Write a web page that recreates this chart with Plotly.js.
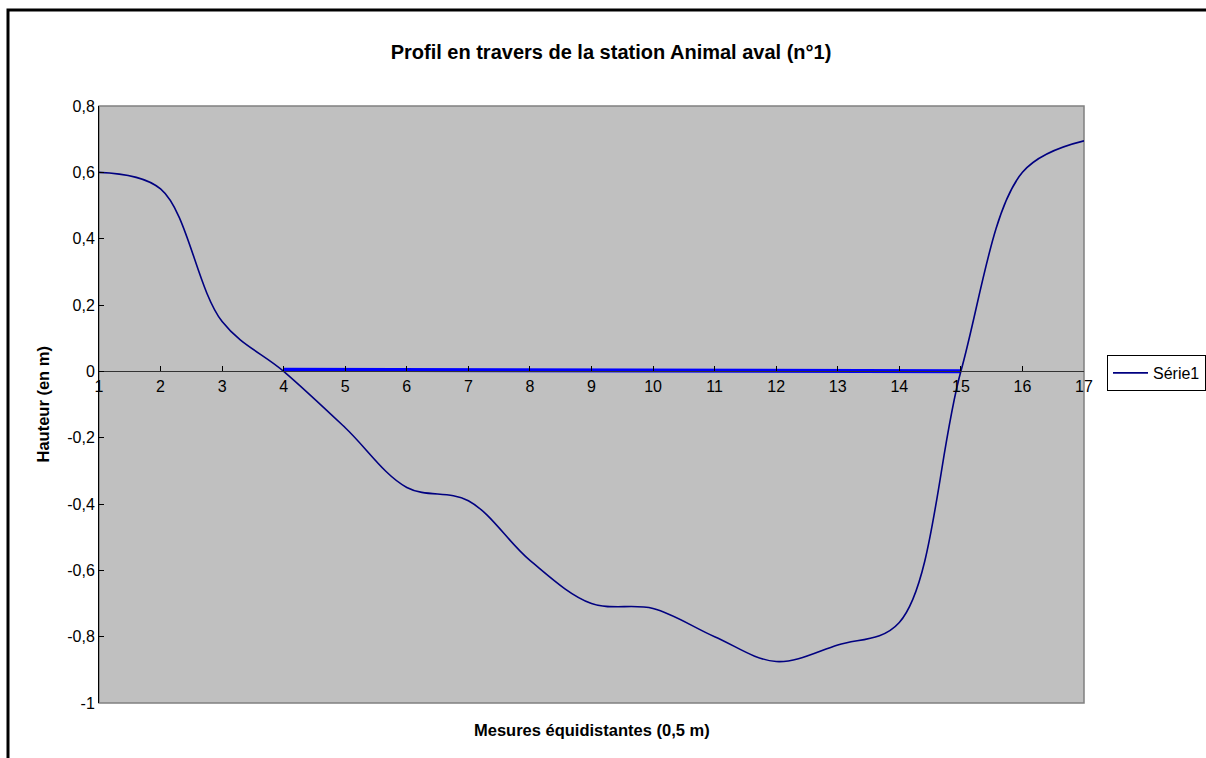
<!DOCTYPE html>
<html>
<head>
<meta charset="utf-8">
<script src="https://cdn.plot.ly/plotly-3.0.1.min.js"></script>
<style>html,body{margin:0;padding:0;background:#fff;}#chart{width:1206px;height:758px;}</style>
</head>
<body>
<div id="chart"></div>
<script>
// Data
const mesures = [1,2,3,4,5,6,7,8,9,10,11,12,13,14,15,16,17];
const hauteur = [0.60,0.55,0.15,0.0,-0.17,-0.35,-0.39,-0.57,-0.70,-0.715,-0.80,-0.875,-0.825,-0.757,0.0,0.60,0.695];
const niveauX = [4,15];
const niveauY = [0.005,0.0];
const yTickVals = [-1,-0.8,-0.6,-0.4,-0.2,0,0.2,0.4,0.6,0.8];
const yTickLabels = ['-1','-0,8','-0,6','-0,4','-0,2','0','0,2','0,4','0,6','0,8'];
const xTickVals = mesures;
const xTickLabels = mesures.map(String);
const titre = 'Profil en travers de la station Animal aval (n°1)';
const titreX = 'Mesures équidistantes (0,5 m)';
const titreY = 'Hauteur (en m)';
const nomSerie = 'Série1';

const F = 'Arial, "Liberation Sans", sans-serif';

const traces = [
  {x: niveauX, y: niveauY, mode: 'lines', line: {color: '#0000FF', width: 4}, showlegend: false, hoverinfo: 'skip'},
  {x: mesures, y: hauteur, mode: 'lines', name: nomSerie, line: {color: '#000080', width: 1.6, shape: 'spline', smoothing: 1}}
];

const layout = {
  width: 1206, height: 758,
  margin: {l: 99, r: 122, t: 106, b: 55, autoexpand: false},
  paper_bgcolor: '#FFFFFF',
  plot_bgcolor: '#C0C0C0',
  font: {family: F, size: 16, color: '#000'},
  title: {text: '<b>' + titre + '</b>', font: {family: F, size: 20, color: '#000'}, xref: 'container', x: 611/1206, xanchor: 'center', yref: 'container', y: 1 - 52/758, yanchor: 'middle'},
  xaxis: {range: [1, 17], anchor: 'free', position: 1/1.8, tickmode: 'array', tickvals: xTickVals, ticktext: xTickLabels,
          showline: true, linecolor: '#333333', linewidth: 1, ticks: 'inside', ticklen: 5, tickcolor: '#000', showgrid: false, zeroline: false,
          tickfont: {family: F, size: 16, color: '#000'}, fixedrange: true},
  yaxis: {range: [-1, 0.8], tickmode: 'array', tickvals: yTickVals, ticktext: yTickLabels,
          showline: true, linecolor: '#000', linewidth: 1, ticks: 'inside', ticklen: 5, tickcolor: '#000', showgrid: false, zeroline: false,
          tickfont: {family: F, size: 16, color: '#000'}, fixedrange: true},
  showlegend: true,
  legend: {x: (1107-99)/985, xanchor: 'left', y: (703-355)/597, yanchor: 'top', bgcolor: '#FFFFFF', bordercolor: '#000', borderwidth: 1,
           font: {family: F, size: 16, color: '#000'}, tracegroupgap: 0, itemwidth: 35},
  annotations: [
    {text: '<b>' + titreY + '</b>', xref: 'paper', yref: 'paper', x: (42-99)/985, y: 0.5, xanchor: 'center', yanchor: 'middle', textangle: -90, showarrow: false, font: {family: F, size: 16.5, color: '#000'}},
    {text: '<b>' + titreX + '</b>', xref: 'paper', yref: 'paper', x: 0.5, y: -(730-703)/597, xanchor: 'center', yanchor: 'middle', showarrow: false, font: {family: F, size: 16.5, color: '#000'}}
  ],
  shapes: [
    {type: 'rect', xref: 'paper', yref: 'paper', x0: 0, x1: 1, y0: 0, y1: 1, line: {color: '#808080', width: 1.5}, layer: 'below'},
    {type: 'rect', xref: 'paper', yref: 'paper', x0: (8-99)/985, x1: (1230-99)/985, y0: -(790-703)/597, y1: 1 + (106-10)/597, line: {color: '#000', width: 3}}
  ]
};

Plotly.newPlot('chart', traces, layout, {displayModeBar: false, staticPlot: true});
</script>
</body>
</html>
